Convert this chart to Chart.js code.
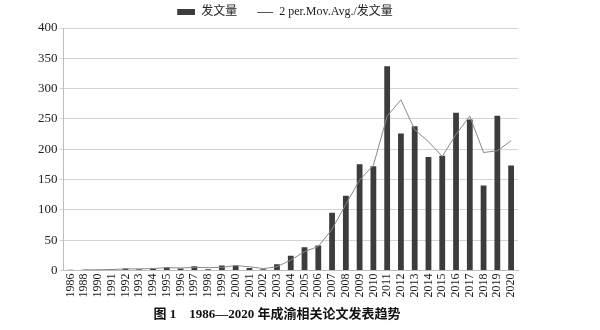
<!DOCTYPE html>
<html>
<head>
<meta charset="utf-8">
<script src="https://cdn.jsdelivr.net/npm/chart.js@4"></script>
<style>
  html, body { margin: 0; padding: 0; background: #fff; }
  #box { width: 600px; height: 330px; }
</style>
</head>
<body>
<div id="box"><canvas id="fawen"></canvas></div>
<script>
// dados
const anos = ['1986', '1988', '1990', '1991', '1992', '1993', '1994', '1995', '1996', '1997',
  '1998', '1999', '2000', '2001', '2002', '2003', '2004', '2005', '2006', '2007', '2008',
  '2009', '2010', '2011', '2012', '2013', '2014', '2015', '2016', '2017', '2018', '2019', '2020'];
const fawenliang = [1, 1, 1, 2, 3, 2, 4, 5, 3, 7, 2, 8, 8, 4, 2, 10, 24, 38, 41, 95, 123,
  175, 172, 337, 226, 238, 187, 189, 260, 249, 140, 255, 173];
const movAvg = [null, 1, 1, 1.5, 2.5, 2.5, 3, 4.5, 4, 5, 4.5, 5, 8, 6, 3, 6, 17, 31, 39.5, 68, 109,
  149, 173.5, 254.5, 281.5, 232, 212.5, 188, 224.5, 254.5, 194.5, 197.5, 214];
const yTicks = [0, 50, 100, 150, 200, 250, 300, 350, 400];

const serif = '"Liberation Serif", "Noto Sans CJK SC", serif';

// marcadores da legenda (espaço em branco à esquerda = distância entre os itens)
const markW = 34;
const barMark = document.createElement('canvas');
barMark.width = markW; barMark.height = 6;
const bctx = barMark.getContext('2d');
bctx.fillStyle = '#3c3c3c';
bctx.fillRect(markW - 18, 0, 18, 6);

const lineMark = document.createElement('canvas');
lineMark.width = markW; lineMark.height = 6;
const lctx = lineMark.getContext('2d');
lctx.fillStyle = '#555';
lctx.fillRect(markW - 16, 3, 16, 1);

new Chart(document.getElementById('fawen'), {
  type: 'bar',
  data: {
    labels: anos,
    datasets: [{
      label: '发文量',
      data: fawenliang,
      backgroundColor: '#3c3c3c',
      barPercentage: 0.42,
      categoryPercentage: 1,
      pointStyle: barMark,
      order: 2
    }, {
      type: 'line',
      label: '2 per.Mov.Avg./发文量',
      data: movAvg,
      borderColor: '#8a8a8a',
      borderWidth: 1,
      pointRadius: 0,
      tension: 0,
      fill: false,
      pointStyle: lineMark,
      order: 1
    }]
  },
  options: {
    responsive: true,
    maintainAspectRatio: false,
    animation: false,
    layout: { padding: { left: 36, right: 82, top: 4, bottom: 6 } },
    plugins: {
      legend: {
        display: true,
        position: 'top',
        labels: {
          usePointStyle: true,
          pointStyleWidth: markW,
          color: '#222',
          font: { family: serif, size: 12 },
          boxHeight: 6,
          padding: 2,
          sort: (a, b) => a.datasetIndex - b.datasetIndex
        }
      },
      title: {
        display: true,
        position: 'bottom',
        text: '图 1    1986—2020 年成渝相关论文发表趋势',
        color: '#111',
        font: { family: serif, size: 13, weight: 'bold' },
        padding: { top: 6, bottom: 2 }
      },
      tooltip: { enabled: false }
    },
    scales: {
      x: {
        grid: { display: false, drawTicks: false },
        border: { color: '#bdbdbd' },
        ticks: {
          autoSkip: false,
          minRotation: 90,
          maxRotation: 90,
          color: '#1a1a1a',
          padding: 3,
          font: { family: serif, size: 12 }
        }
      },
      y: {
        min: 0,
        max: 400,
        afterBuildTicks: (axis) => { axis.ticks = yTicks.map(v => ({ value: v })); },
        grid: { color: '#d4d4d4', tickLength: 4 },
        border: { color: '#bdbdbd' },
        ticks: {
          color: '#222',
          padding: 2,
          font: { family: serif, size: 13 }
        }
      }
    }
  }
});
</script>
</body>
</html>
